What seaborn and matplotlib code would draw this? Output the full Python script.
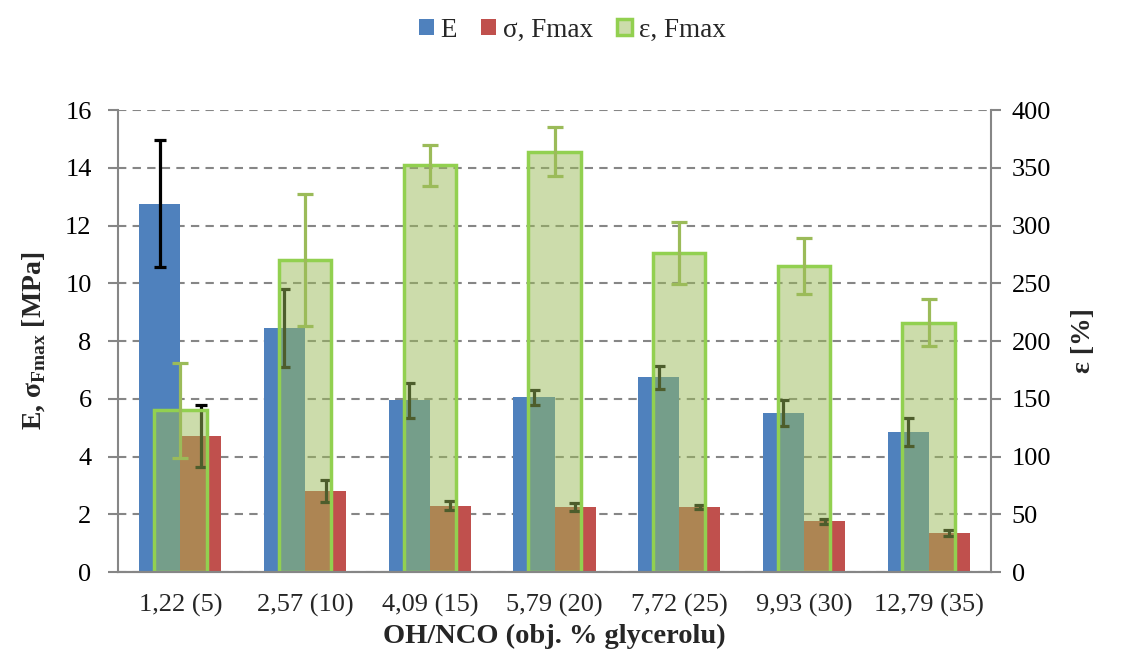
import matplotlib
matplotlib.use("Agg")
import matplotlib.pyplot as plt
from matplotlib.patches import Patch
import seaborn as sns
import pandas as pd
import numpy as np

# Data
categories = ["1,22 (5)", "2,57 (10)", "4,09 (15)", "5,79 (20)", "7,72 (25)", "9,93 (30)", "12,79 (35)"]
E_vals = [12.75, 8.45, 5.95, 6.05, 6.75, 5.5, 4.85]
E_err = [2.2, 1.35, 0.6, 0.27, 0.4, 0.45, 0.5]
sigma_vals = [4.7, 2.8, 2.3, 2.25, 2.25, 1.75, 1.35]
sigma_err = [1.07, 0.37, 0.15, 0.13, 0.08, 0.08, 0.1]
eps_vals = [140, 270, 352, 364, 276, 265, 216]
eps_err = [41, 57, 18, 21, 27, 24, 20]

blue = "#4f81bd"
red = "#c0504d"
green_fill = "#9bbb59"
green_edge = "#92d050"
grey = "#868686"

sns.set_style("white")
plt.rcParams["font.family"] = ["Liberation Serif", "DejaVu Serif"]
plt.rcParams["mathtext.fontset"] = "custom"
plt.rcParams["mathtext.rm"] = "Liberation Serif"
plt.rcParams["mathtext.bf"] = "Liberation Serif:bold"

df = pd.DataFrame({
    "cat": categories * 2,
    "val": E_vals + sigma_vals,
    "series": ["E"] * 7 + ["σ, Fmax"] * 7,
})

fig = plt.figure(figsize=(11.29, 6.55), dpi=100)
ax1 = fig.add_axes([0.1045, 0.1267, 0.7733, 0.7053])

sns.barplot(data=df, x="cat", y="val", hue="series", palette=[blue, red],
            width=0.66, errorbar=None, ax=ax1, legend=False, saturation=1)
for p in ax1.patches:
    p.set_linewidth(0)

# error bars for E and sigma
bars = ax1.patches
xs_E = [b.get_x() + b.get_width() / 2 for b in bars[:7]]
xs_s = [b.get_x() + b.get_width() / 2 for b in bars[7:14]]
ax1.errorbar(xs_E, E_vals, yerr=E_err, fmt="none", ecolor="black",
             elinewidth=2.3, capsize=4.5, capthick=2.3, zorder=3)
ax1.errorbar(xs_s, sigma_vals, yerr=sigma_err, fmt="none", ecolor="black",
             elinewidth=2.3, capsize=4.5, capthick=2.3, zorder=3)

ax1.set_ylim(0, 16)
ax1.set_yticks(range(0, 17, 2))
ax1.set_xlim(-0.5, 6.5)
ax1.yaxis.grid(True, linestyle=(0, (4, 3)), color=grey, linewidth=1.5)
ax1.set_axisbelow(True)

# secondary axis for epsilon
ax2 = ax1.twinx()
sns.barplot(x=categories, y=eps_vals, color=green_fill, width=0.42,
            errorbar=None, ax=ax2)
for p in ax2.patches:
    p.set_facecolor((0.608, 0.733, 0.349, 0.5))
    p.set_edgecolor(green_edge)
    p.set_linewidth(2.5)
ax2.errorbar(range(7), eps_vals, yerr=eps_err, fmt="none", ecolor=green_fill,
             elinewidth=2.3, capsize=6, capthick=2.3, zorder=3)
ax2.set_ylim(0, 400)
ax2.set_yticks(range(0, 401, 50))
ax2.set_xlim(-0.5, 6.5)

for ax in (ax1, ax2):
    ax.spines["top"].set_visible(False)
    for s in ("left", "right", "bottom"):
        ax.spines[s].set_color(grey)
        ax.spines[s].set_linewidth(1.5)
    ax.tick_params(axis="y", length=7, width=1.5, color=grey, labelsize=19, labelcolor="black", direction="out")
ax1.spines["right"].set_visible(False)
ax2.spines["left"].set_visible(False)

ax1.set_xticks(range(7))
ax1.set_xticklabels(categories)
ax1.set_xticks(np.arange(-0.5, 7, 1), minor=True)
ax1.tick_params(axis="x", which="major", length=0, labelsize=19, pad=16)
ax1.tick_params(axis="x", which="minor", length=7, width=1.5, color=grey, direction="out")
ax1.tick_params(axis="y", pad=12)
ax2.tick_params(axis="y", pad=8)

ax1.set_xlabel("OH/NCO (obj. % glycerolu)", fontsize=20.5, fontweight="bold", labelpad=5)
ax1.set_ylabel(r"E, σ$_{\mathbf{Fmax}}$ [MPa]", fontsize=20, fontweight="bold", labelpad=12)
ax2.set_ylabel("ε [%]", fontsize=20, fontweight="bold", labelpad=14)

handles = [
    Patch(facecolor=blue, edgecolor="none", label="E"),
    Patch(facecolor=red, edgecolor="none", label="σ, Fmax"),
    Patch(facecolor=(0.608, 0.733, 0.349, 0.5), edgecolor=green_edge, linewidth=2.5, label="ε, Fmax"),
]
fig.legend(handles=handles, loc="upper center", bbox_to_anchor=(0.507, 1.01), ncol=3,
           frameon=False, fontsize=19.5, handlelength=0.55, handleheight=0.55,
           handletextpad=0.25, columnspacing=0.9)

fig.savefig("out.png", dpi=100)
